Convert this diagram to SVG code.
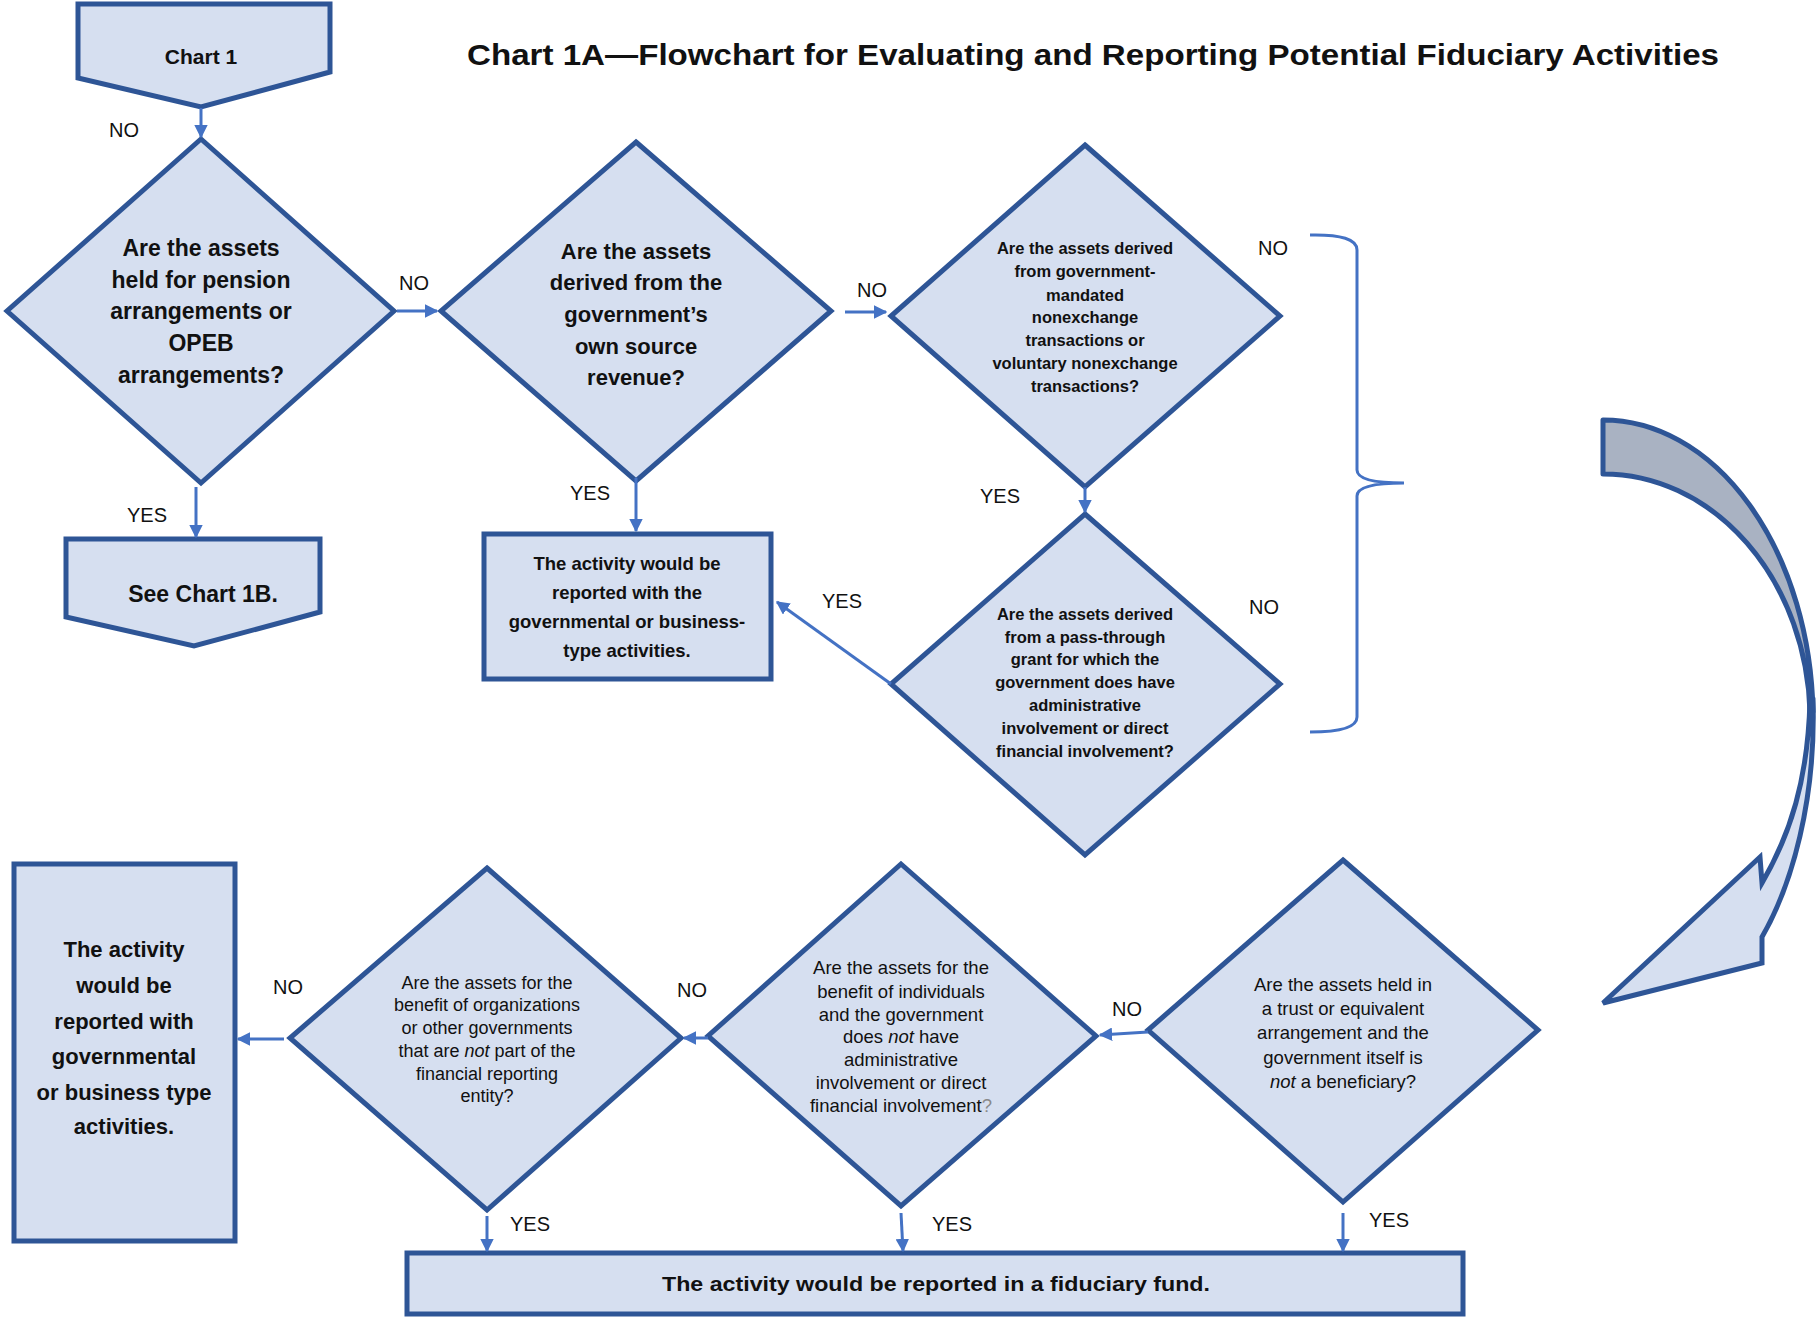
<svg xmlns="http://www.w3.org/2000/svg" width="1819" height="1319" viewBox="0 0 1819 1319">
<style>
.shape{fill:#d6dff0;stroke:#2e5596;stroke-width:5;stroke-linejoin:miter}
.t{font-family:"Liberation Sans",Arial,sans-serif;fill:#111;text-anchor:middle;dominant-baseline:central}
.b{font-weight:bold}
.lbl{font-family:"Liberation Sans",Arial,sans-serif;fill:#111;font-size:20px;text-anchor:middle;dominant-baseline:central}
.conn{stroke:#4472c4;stroke-width:3;fill:none;marker-end:url(#ah)}
.brace{stroke:#4472c4;stroke-width:3;fill:none}
</style>
<defs>
<marker id="ah" viewBox="0 0 10 10" refX="9" refY="5" markerWidth="4.5" markerHeight="4.5" orient="auto" markerUnits="strokeWidth">
<path d="M0,0 L10,5 L0,10 Z" fill="#4472c4"/>
</marker>
</defs>
<rect width="1819" height="1319" fill="#ffffff"/>

<text class="t b" x="1093" y="54" font-size="30" textLength="1252" lengthAdjust="spacingAndGlyphs">Chart 1A—Flowchart for Evaluating and Reporting Potential Fiduciary Activities</text>

<g id="chart1">
<path class="shape" d="M78,4 L330,4 L330,72 L201,107 L78,78 Z"/>
<text class="t b" x="201" y="56" font-size="21">Chart 1</text>
</g>

<g id="q-pension">
<path class="shape" d="M201,139 L394,311 L201,483 L7,311 Z"/>
<text class="t b" font-size="23"><tspan x="201" y="248">Are the assets</tspan><tspan x="201" y="280">held for pension</tspan><tspan x="201" y="311">arrangements or</tspan><tspan x="201" y="343">OPEB</tspan><tspan x="201" y="375">arrangements?</tspan></text>
</g>

<g id="chart1b">
<path class="shape" d="M66,539 L320,539 L320,612 L194,646 L66,617 Z"/>
<text class="t b" x="203" y="594" font-size="23">See Chart 1B.</text>
</g>

<g id="q-own-source">
<path class="shape" d="M636,142 L831,311 L636,481 L441,311 Z"/>
<text class="t b" font-size="22"><tspan x="636" y="251">Are the assets</tspan><tspan x="636" y="282">derived from the</tspan><tspan x="636" y="314">government’s</tspan><tspan x="636" y="346">own source</tspan><tspan x="636" y="377">revenue?</tspan></text>
</g>

<g id="box-gov-bta">
<rect class="shape" x="484" y="534" width="287" height="145"/>
<text class="t b" font-size="18.5"><tspan x="627" y="563">The activity would be</tspan><tspan x="627" y="592">reported with the</tspan><tspan x="627" y="621">governmental or business-</tspan><tspan x="627" y="650">type activities.</tspan></text>
</g>

<g id="q-nonexchange">
<path class="shape" d="M1085,145 L1280,316 L1085,487 L891,316 Z"/>
<text class="t b" font-size="16.5"><tspan x="1085" y="248">Are the assets derived</tspan><tspan x="1085" y="271">from government-</tspan><tspan x="1085" y="295">mandated</tspan><tspan x="1085" y="317">nonexchange</tspan><tspan x="1085" y="340">transactions or</tspan><tspan x="1085" y="363">voluntary nonexchange</tspan><tspan x="1085" y="386">transactions?</tspan></text>
</g>

<g id="q-pass-through">
<path class="shape" d="M1085,514 L1280,684 L1085,855 L891,684 Z"/>
<text class="t b" font-size="16.5"><tspan x="1085" y="614">Are the assets derived</tspan><tspan x="1085" y="637">from a pass-through</tspan><tspan x="1085" y="659">grant for which the</tspan><tspan x="1085" y="682">government does have</tspan><tspan x="1085" y="705">administrative</tspan><tspan x="1085" y="728">involvement or direct</tspan><tspan x="1085" y="751">financial involvement?</tspan></text>
</g>

<g id="brace">
<path class="brace" d="M1310,235 Q1357,234 1357,250 L1357,470 Q1357,483 1404,483 Q1357,483 1357,496 L1357,717 Q1357,732 1310,732"/>
</g>

<g id="curved-arrow">
<path d="M1603,420 A210,300 0 0 1 1813,712 L1810,712 A207,246 0 0 0 1603,474 Z" fill="#a9b2c2" stroke="#2e5596" stroke-width="5" stroke-linejoin="round"/>
<path d="M1813,700 C1816,800 1792,885 1762,937 L1762,963 L1603,1003 L1760,857 L1762,883 C1790,835 1808,780 1810,700 Z" fill="#d6dff0" stroke="#2e5596" stroke-width="5" stroke-linejoin="miter"/>
</g>

<g id="box-gov-bta-2">
<rect class="shape" x="14" y="864" width="221" height="377"/>
<text class="t b" font-size="22"><tspan x="124" y="949">The activity</tspan><tspan x="124" y="985">would be</tspan><tspan x="124" y="1021">reported with</tspan><tspan x="124" y="1056">governmental</tspan><tspan x="124" y="1092">or business type</tspan><tspan x="124" y="1126">activities.</tspan></text>
</g>

<g id="q-organizations">
<path class="shape" d="M487,868 L681,1038 L487,1210 L290,1038 Z"/>
<text class="t" font-size="18"><tspan x="487" y="983">Are the assets for the</tspan><tspan x="487" y="1005">benefit of organizations</tspan><tspan x="487" y="1028">or other governments</tspan><tspan x="487" y="1051">that are <tspan font-style="italic">not</tspan> part of the</tspan><tspan x="487" y="1074">financial reporting</tspan><tspan x="487" y="1096">entity?</tspan></text>
</g>

<g id="q-individuals">
<path class="shape" d="M901,864 L1096,1036 L901,1206 L708,1036 Z"/>
<text class="t" font-size="18.5"><tspan x="901" y="967">Are the assets for the</tspan><tspan x="901" y="991">benefit of individuals</tspan><tspan x="901" y="1014">and the government</tspan><tspan x="901" y="1036">does <tspan font-style="italic">not</tspan> have</tspan><tspan x="901" y="1059">administrative</tspan><tspan x="901" y="1082">involvement or direct</tspan><tspan x="901" y="1105">financial involvement<tspan fill="#8a8a8a">?</tspan></tspan></text>
</g>

<g id="q-trust">
<path class="shape" d="M1343,860 L1538,1030 L1343,1202 L1148,1030 Z"/>
<text class="t" font-size="18.5"><tspan x="1343" y="984">Are the assets held in</tspan><tspan x="1343" y="1008">a trust or equivalent</tspan><tspan x="1343" y="1032">arrangement and the</tspan><tspan x="1343" y="1057">government itself is</tspan><tspan x="1343" y="1081"><tspan font-style="italic">not</tspan> a beneficiary?</tspan></text>
</g>

<g id="box-fiduciary">
<rect class="shape" x="407" y="1253" width="1056" height="61"/>
<text class="t b" x="936" y="1284" font-size="20" textLength="548" lengthAdjust="spacingAndGlyphs">The activity would be reported in a fiduciary fund.</text>
</g>

<g id="connectors">
<line class="conn" x1="201" y1="108" x2="201" y2="137"/>
<line class="conn" x1="397" y1="311" x2="437" y2="311"/>
<line class="conn" x1="196" y1="487" x2="196" y2="537"/>
<line class="conn" x1="845" y1="312" x2="886" y2="312"/>
<line class="conn" x1="636" y1="478" x2="636" y2="531"/>
<line class="conn" x1="1085" y1="487" x2="1085" y2="512"/>
<line class="conn" x1="891" y1="684" x2="777" y2="602"/>
<line class="conn" x1="1148" y1="1032" x2="1100" y2="1035"/>
<line class="conn" x1="708" y1="1038" x2="684" y2="1038"/>
<line class="conn" x1="284" y1="1039" x2="238" y2="1039"/>
<line class="conn" x1="487" y1="1216" x2="487" y2="1251"/>
<line class="conn" x1="901" y1="1213" x2="903" y2="1251"/>
<line class="conn" x1="1343" y1="1213" x2="1343" y2="1251"/>
</g>

<g id="labels">
<text class="lbl" x="124" y="130">NO</text>
<text class="lbl" x="414" y="283">NO</text>
<text class="lbl" x="872" y="290">NO</text>
<text class="lbl" x="1273" y="248">NO</text>
<text class="lbl" x="1264" y="607">NO</text>
<text class="lbl" x="288" y="987">NO</text>
<text class="lbl" x="692" y="990">NO</text>
<text class="lbl" x="1127" y="1009">NO</text>
<text class="lbl" x="147" y="515">YES</text>
<text class="lbl" x="590" y="493">YES</text>
<text class="lbl" x="1000" y="496">YES</text>
<text class="lbl" x="842" y="601">YES</text>
<text class="lbl" x="530" y="1224">YES</text>
<text class="lbl" x="952" y="1224">YES</text>
<text class="lbl" x="1389" y="1220">YES</text>
</g>
</svg>
